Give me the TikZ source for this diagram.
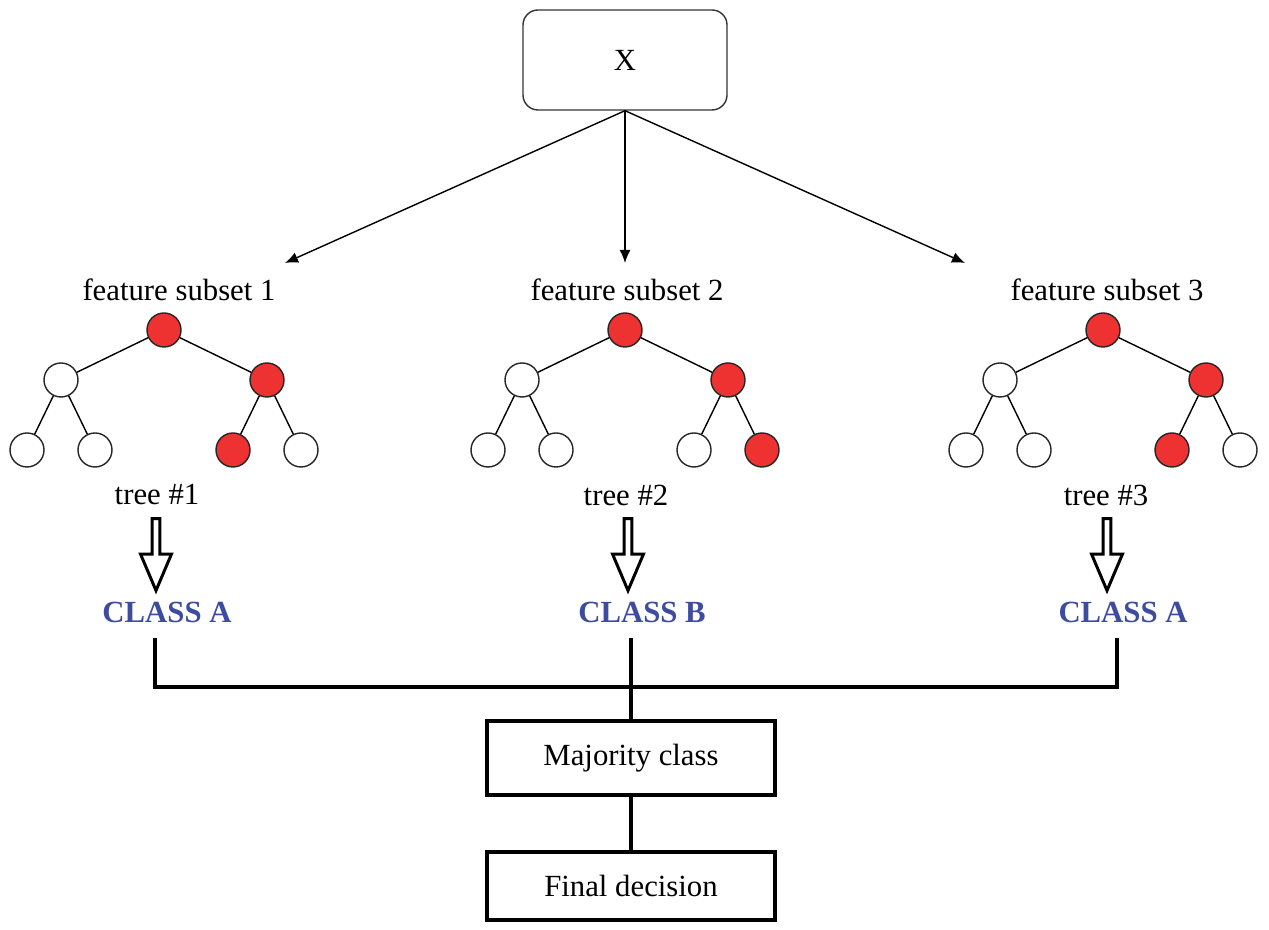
\documentclass[tikz,border=0pt]{standalone}
\usepackage{fontspec}
\setmainfont{Liberation Serif}
\usetikzlibrary{arrows.meta,shapes.arrows}
\definecolor{nodered}{RGB}{238,50,50}
\definecolor{classblue}{RGB}{62,76,160}

\begin{document}
\begin{tikzpicture}[line width=0.8pt,>={Latex[length=2.6mm,width=2.2mm]},font=\fontsize{17.5}{21}\selectfont,
  wn/.style={circle,draw=black!85,fill=white,minimum size=0.68cm,inner sep=0pt},
  rn/.style={wn,fill=nodered},
  hollow/.style={single arrow,draw,line width=1.7pt,rotate=-90,minimum height=1.44cm,minimum width=0.62cm,
    single arrow head extend=0.09cm,single arrow tip angle=46,inner sep=0pt},
  cls/.style={text=classblue,font=\fontsize{17.5}{21}\selectfont\bfseries},
  bx/.style={draw,line width=2.3pt,minimum width=5.76cm},
  bus/.style={line width=2.3pt}]
  \useasboundingbox (0,0) rectangle (25.38,18.6);
  \fill[white] (0,0) rectangle (25.38,18.6);
  % entrada
  \node[draw=black!80,rounded corners=0.3cm,minimum width=4.08cm,minimum height=2cm] (x) at (12.5,17.4) {X};
  \coordinate (e1) at (5.7,13.34); \coordinate (e2) at (12.5,13.34); \coordinate (e3) at (19.3,13.34);
  \draw[->] (x.south) -- (e1); \draw[->] (x.south) -- (e2); \draw[->] (x.south) -- (e3);
  % arbol 1
  \node (fs1) at (3.58,12.8) {feature subset 1};
  \node[rn] (r1) at (3.28,12.0) {}; \node[wn] (a1) at (1.22,11.0) {}; \node[rn] (b1) at (5.34,11.0) {};
  \node[wn] (a1l) at (0.54,9.6) {}; \node[wn] (a1r) at (1.90,9.6) {};
  \node[rn] (b1l) at (4.66,9.6) {}; \node[wn] (b1r) at (6.02,9.6) {};
  \draw (r1) -- (a1) (r1) -- (b1) (a1) -- (a1l) (a1) -- (a1r) (b1) -- (b1l) (b1) -- (b1r);
  \node (t1) at (3.14,8.7) {tree \#1};
  % arbol 2
  \node (fs2) at (12.54,12.8) {feature subset 2};
  \node[rn] (r2) at (12.5,12.0) {}; \node[wn] (a2) at (10.44,11.0) {}; \node[rn] (b2) at (14.56,11.0) {};
  \node[wn] (a2l) at (9.76,9.6) {}; \node[wn] (a2r) at (11.12,9.6) {};
  \node[wn] (b2l) at (13.88,9.6) {}; \node[rn] (b2r) at (15.24,9.6) {};
  \draw (r2) -- (a2) (r2) -- (b2) (a2) -- (a2l) (a2) -- (a2r) (b2) -- (b2l) (b2) -- (b2r);
  \node (t2) at (12.52,8.7) {tree \#2};
  % arbol 3
  \node (fs3) at (22.14,12.8) {feature subset 3};
  \node[rn] (r3) at (22.06,12.0) {}; \node[wn] (a3) at (20.0,11.0) {}; \node[rn] (b3) at (24.12,11.0) {};
  \node[wn] (a3l) at (19.32,9.6) {}; \node[wn] (a3r) at (20.68,9.6) {};
  \node[rn] (b3l) at (23.44,9.6) {}; \node[wn] (b3r) at (24.8,9.6) {};
  \draw (r3) -- (a3) (r3) -- (b3) (a3) -- (a3l) (a3) -- (a3r) (b3) -- (b3l) (b3) -- (b3r);
  \node (t3) at (22.12,8.7) {tree \#3};
  % votos
  \node[hollow] (h1) at (3.12,7.6) {}; \node[hollow] (h2) at (12.56,7.6) {}; \node[hollow] (h3) at (22.14,7.6) {};
  \node[cls] (c1) at (3.34,6.36) {CLASS A};
  \node[cls] (c2) at (12.84,6.36) {CLASS B};
  \node[cls] (c3) at (22.46,6.36) {CLASS A};
  % decision
  \coordinate (j1) at (3.1,5.84); \coordinate (j2) at (12.62,5.84); \coordinate (j3) at (22.34,5.84);
  \coordinate (hub) at (12.62,4.86);
  \node[bx,minimum height=1.48cm] (maj) at (12.62,3.44) {Majority class};
  \node[bx,minimum height=1.36cm] (fin) at (12.62,0.88) {Final decision};
  \draw[bus] (j1) |- (hub) -| (j3); \draw[bus] (j2) -- (maj);
  \draw[bus] (maj) -- (fin);
\end{tikzpicture}
\end{document}
